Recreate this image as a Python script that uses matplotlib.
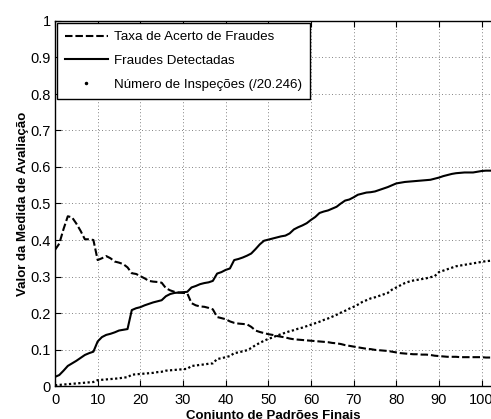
import matplotlib.pyplot as plt
from matplotlib.lines import Line2D
import numpy as np

plt.rcParams['font.family'] = ['Liberation Sans', 'DejaVu Sans']

x = np.arange(0, 103)

taxa_acerto = [
    0.373, 0.390, 0.430, 0.465, 0.462, 0.445, 0.425, 0.402, 0.402, 0.400,
    0.345, 0.350, 0.356, 0.350, 0.341, 0.338, 0.334, 0.325, 0.309, 0.307,
    0.301, 0.295, 0.288, 0.286, 0.285, 0.283, 0.268, 0.262, 0.258, 0.256,
    0.255, 0.254, 0.227, 0.221, 0.218, 0.217, 0.214, 0.210, 0.189, 0.186,
    0.183, 0.177, 0.173, 0.171, 0.170, 0.169, 0.162, 0.152, 0.148, 0.145,
    0.142, 0.140, 0.137, 0.135, 0.133, 0.130, 0.128, 0.127, 0.126, 0.125,
    0.124, 0.123, 0.122, 0.121, 0.120, 0.118, 0.117, 0.115, 0.112, 0.110,
    0.108, 0.106, 0.104, 0.102, 0.101, 0.099, 0.098, 0.097, 0.096, 0.094,
    0.092, 0.090, 0.089, 0.088, 0.087, 0.087, 0.086, 0.086, 0.085, 0.083,
    0.082, 0.081, 0.080, 0.080, 0.080, 0.079, 0.079, 0.079, 0.079, 0.079,
    0.079, 0.078, 0.078,
]

fraudes_detectadas = [
    0.025, 0.030, 0.042, 0.055, 0.062, 0.069, 0.077, 0.085, 0.090, 0.094,
    0.122, 0.134, 0.140, 0.143, 0.147, 0.152, 0.154, 0.156, 0.208, 0.213,
    0.216, 0.221, 0.225, 0.229, 0.232, 0.235, 0.246, 0.252, 0.255, 0.256,
    0.257, 0.258, 0.270, 0.274, 0.279, 0.282, 0.284, 0.288, 0.308, 0.312,
    0.318, 0.322, 0.345, 0.348, 0.352, 0.357, 0.363, 0.375, 0.388, 0.398,
    0.401, 0.404, 0.407, 0.410, 0.412, 0.418, 0.429, 0.435, 0.440, 0.446,
    0.455, 0.463, 0.474, 0.478, 0.481, 0.486, 0.491, 0.500, 0.508, 0.511,
    0.517, 0.524, 0.527, 0.530, 0.531, 0.533, 0.537, 0.541, 0.545, 0.550,
    0.555, 0.557, 0.559, 0.560, 0.561, 0.562, 0.563, 0.564, 0.565, 0.568,
    0.571, 0.575, 0.578, 0.581, 0.583, 0.584, 0.585, 0.585, 0.585, 0.587,
    0.589, 0.590, 0.590,
]

num_inspecoes = [
    0.002, 0.003, 0.004, 0.005, 0.006, 0.007, 0.008, 0.009, 0.010, 0.011,
    0.016, 0.017, 0.018, 0.019, 0.020, 0.021, 0.023, 0.024, 0.031, 0.032,
    0.033, 0.034, 0.035, 0.036, 0.038, 0.039, 0.042, 0.043, 0.044, 0.045,
    0.046, 0.047, 0.055, 0.056, 0.058, 0.059, 0.061, 0.062, 0.074, 0.076,
    0.079, 0.082, 0.090, 0.092, 0.095, 0.098, 0.104, 0.112, 0.118, 0.124,
    0.129, 0.133, 0.138, 0.142, 0.146, 0.150, 0.153, 0.157, 0.160, 0.164,
    0.168, 0.172, 0.176, 0.181, 0.185, 0.190, 0.195, 0.201, 0.206, 0.212,
    0.217, 0.223, 0.230, 0.235, 0.240, 0.243, 0.247, 0.251, 0.255, 0.264,
    0.270, 0.276, 0.282, 0.286, 0.289, 0.291, 0.293, 0.295, 0.298, 0.301,
    0.312, 0.316, 0.320, 0.324, 0.328, 0.330, 0.332, 0.334, 0.336, 0.338,
    0.340, 0.342, 0.343,
]

labels = ["Taxa de Acerto de Fraudes", "Fraudes Detectadas",
          "Número de Inspeções (/20.246)"]

fig = plt.figure(figsize=(4.91, 4.19), dpi=100)
ax = fig.add_axes([55 / 491, 33 / 419, 436 / 491, 365 / 419])

ax.plot(x, taxa_acerto, color="k", lw=1.5, dashes=(3.6, 1.4))
ax.plot(x, fraudes_detectadas, color="k", lw=1.5)
ax.plot(x, num_inspecoes, color="k", lw=1.6, dashes=(1, 1.1))

ax.set_xlim(0, 102.2)
ax.set_ylim(0, 1)
ax.set_xticks(np.arange(0, 101, 10))
ax.set_yticks(np.arange(0, 1.01, 0.1))
ax.set_yticklabels(["0"] + ["%.1f" % v for v in np.arange(0.1, 1.0, 0.1)] + ["1"])
ax.tick_params(direction="in", top=True, length=4, width=0.8, labelsize=10.5)
ax.tick_params(axis="y", pad=3)
ax.tick_params(axis="x", pad=5)
ax.grid(True, color="0.35", lw=0.6, linestyle=(0, (1, 3)))
ax.spines["right"].set_visible(False)
for s in ["top", "bottom", "left"]:
    ax.spines[s].set_linewidth(1.0)

ax.set_xlabel("Conjunto de Padrões Finais", fontsize=9.5, fontweight="bold", labelpad=2)
ax.set_ylabel("Valor da Medida de Avaliação", fontsize=9.5, fontweight="bold", labelpad=1)

handles = [
    Line2D([], [], color="k", lw=1.5, dashes=(3.6, 1.4)),
    Line2D([], [], color="k", lw=1.5),
    Line2D([], [], color="k", ls="none", marker=".", ms=3),
]
leg = ax.legend(handles, labels, loc="upper left", fontsize=9.6, fancybox=False,
                framealpha=1, edgecolor="k", handlelength=3.2, handletextpad=0.5,
                borderaxespad=0.15, labelspacing=0.85, borderpad=0.6)
leg.get_frame().set_linewidth(1.0)

fig.savefig("out.png", dpi=100)
